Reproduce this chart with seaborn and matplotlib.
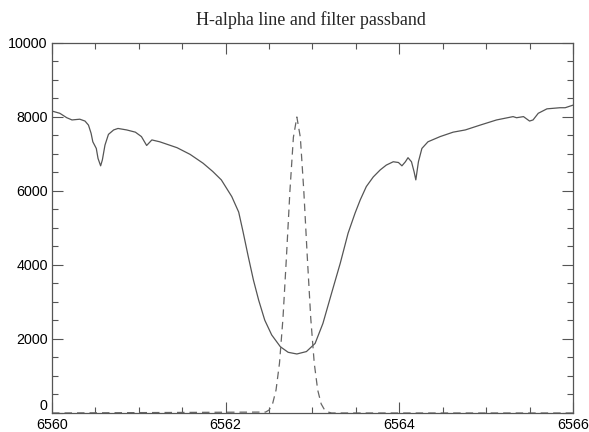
import numpy as np
import pandas as pd
import matplotlib
matplotlib.use("Agg")
import matplotlib.pyplot as plt
import seaborn as sns
from matplotlib.ticker import MultipleLocator

# Spectrum (solid line)
spec_wl = [6560.00, 6560.09, 6560.17, 6560.23, 6560.32, 6560.38, 6560.42, 6560.45,
           6560.47, 6560.51, 6560.53, 6560.56, 6560.58, 6560.61, 6560.65, 6560.71,
           6560.76, 6560.86, 6560.96, 6561.03, 6561.09, 6561.15, 6561.24, 6561.44,
           6561.59, 6561.74, 6561.85, 6561.95, 6562.07, 6562.15, 6562.20, 6562.26,
           6562.32, 6562.38, 6562.45, 6562.53, 6562.63, 6562.72, 6562.82, 6562.93,
           6563.03, 6563.12, 6563.22, 6563.32, 6563.41, 6563.49, 6563.55, 6563.62,
           6563.70, 6563.78, 6563.85, 6563.93, 6563.99, 6564.03, 6564.07, 6564.10,
           6564.14, 6564.17, 6564.19, 6564.22, 6564.26, 6564.33, 6564.47, 6564.62,
           6564.76, 6564.93, 6565.12, 6565.31, 6565.35, 6565.43, 6565.50, 6565.54,
           6565.60, 6565.70, 6565.85, 6565.91, 6566.00]
spec_flux = [8160, 8100, 7980, 7920, 7940, 7890, 7780, 7560,
             7330, 7150, 6880, 6680, 6840, 7240, 7530, 7650,
             7690, 7650, 7590, 7470, 7230, 7380, 7330, 7170,
             6990, 6750, 6530, 6300, 5850, 5430, 4900, 4230,
             3590, 3050, 2510, 2110, 1790, 1640, 1595, 1660,
             1880, 2420, 3240, 4050, 4860, 5400, 5760, 6120,
             6380, 6570, 6700, 6790, 6770, 6680, 6790, 6900,
             6790, 6520, 6300, 6790, 7150, 7330, 7470, 7590,
             7650, 7780, 7920, 8010, 7980, 8010, 7890, 7920,
             8100, 8220, 8250, 8250, 8320]

# Filter passband (dashed line)
filt_wl = [6560.00, 6562.46, 6562.50, 6562.54, 6562.58, 6562.62, 6562.66, 6562.70,
           6562.74, 6562.78, 6562.82, 6562.86, 6562.90, 6562.94, 6562.98, 6563.02,
           6563.06, 6563.10, 6563.14, 6563.18, 6563.22, 6566.00]
filt_val = [0, 25, 80, 245, 620, 1350, 2560, 4220,
            6000, 7450, 8000, 7450, 6000, 4220, 2560, 1350,
            620, 245, 80, 25, 0, 0]

title = "H-alpha line and filter passband"
xticks = [6560, 6562, 6564, 6566]
yticks = [0, 2000, 4000, 6000, 8000, 10000]

sns.set_style("ticks")
plt.rcParams['font.family'] = ['Liberation Sans', 'DejaVu Sans']

fig = plt.figure(figsize=(5.89, 4.32), dpi=100)
ax = fig.add_axes([0.0883, 0.044, 0.8845, 0.8565])

spec = pd.DataFrame({"wl": spec_wl, "flux": spec_flux})
filt = pd.DataFrame({"wl": filt_wl, "val": filt_val})

sns.lineplot(data=spec, x="wl", y="flux", ax=ax, color="#555555", lw=0.9)
sns.lineplot(data=filt, x="wl", y="val", ax=ax, color="#666666", lw=0.9,
             linestyle=(0, (6, 4)))

ax.set_xlim(6560, 6566)
ax.set_ylim(0, 10000)
ax.set_xticks(xticks)
ax.set_yticks(yticks)
ax.set_xticklabels([str(t) for t in xticks])
ax.set_yticklabels([str(t) for t in yticks])
ax.xaxis.set_minor_locator(MultipleLocator(0.5))
ax.yaxis.set_minor_locator(MultipleLocator(500))
ax.set_xlabel("")
ax.set_ylabel("")
ax.tick_params(which="both", direction="in", top=True, right=True,
               colors="#555555", labelcolor="black", labelsize=10.3, width=0.8)
ax.tick_params(which="major", length=8)
ax.tick_params(which="minor", length=4)
ax.tick_params(axis="x", which="major", pad=3.5)
ax.tick_params(axis="y", which="major", pad=3)
ax.get_yticklabels()[0].set_va("bottom")
for s in ax.spines.values():
    s.set_color("#555555")
    s.set_linewidth(0.9)

fig.text(0.528, 0.953, title, ha="center", va="center",
         fontsize=13, family=["Liberation Serif", "DejaVu Serif"])

fig.savefig("out.png", dpi=100)
